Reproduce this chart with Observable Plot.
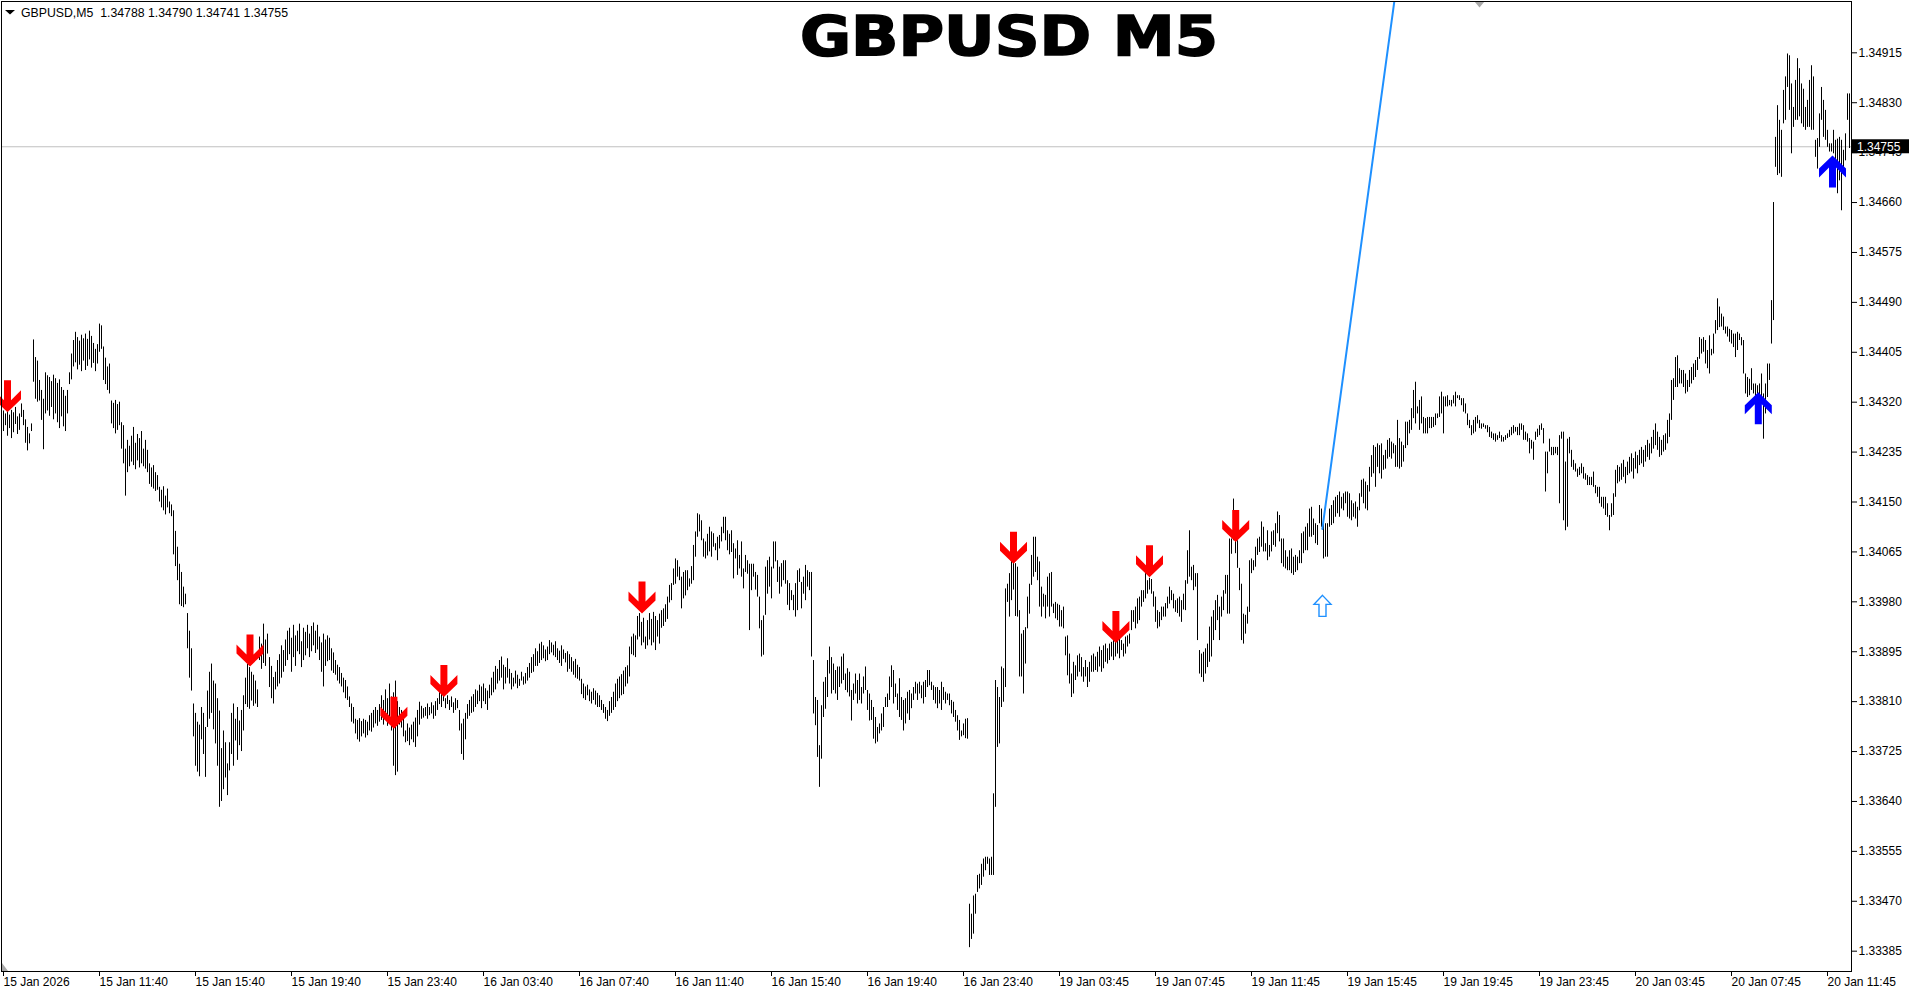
<!DOCTYPE html>
<html>
<head>
<meta charset="utf-8">
<style>
html, body { margin: 0; padding: 0; background: #ffffff; overflow: hidden; }
#chart { width: 1916px; height: 995px; }
</style>
<script src="https://cdn.jsdelivr.net/npm/d3@7"></script>
<script src="https://cdn.jsdelivr.net/npm/@observablehq/plot@0.6"></script>
</head>
<body>
<div id="chart"></div>
<script>
// ---------- DATA ----------
const titleText = "GBPUSD M5";
const headerText = "GBPUSD,M5  1.34788 1.34790 1.34741 1.34755";
const currentPrice = 1.34755;
// bar prices are stored as points above 1.33000 (1 point = 0.00001)
const priceBase = 1.33;

const highs = [
  1305,1300,1310,1298,1306,1302,1311,1295,1300,
  1317,1306,1290,1277,1266,1283,
  1426,
  1396,1390,1357,1340,1325,1370,
  1365,1362,1355,1366,1360,1352,1358,1345,1340,1330,1340,
  1370,1402,
  1425,1439,1430,1424,1434,1428,1436,1427,1441,1432,1420,1410,1418,
  1453,1450,
  1414,1395,1380,1385,
  1322,1318,1323,1316,1320,1285,
  1280,1240,1255,
  1245,1262,1277,1250,1265,1258,1270,1240,1255,1238,
  1215,1208,1212,1200,1195,
  1175,1170,1176,1160,1172,1150,1145,
  1135,1100,1073,
  1044,1030,1005,993,
  960,930,900,
  806,790,775,770,800,790,766,
  828,860,874,845,
  840,815,794,
  730,760,740,704,740,
  790,806,780,800,777,795,820,
  850,874,868,860,855,845,830,
  920,908,942,915,925,
  885,870,851,860,880,
  890,905,897,915,930,935,918,940,922,930,942,912,935,928,940,925,938,944,930,940,920,910,925,915,922,918,
  900,893,880,872,868,858,850,846,835,818,806,800,
  780,778,781,776,780,778,775,786,790,795,
  800,795,805,820,812,830,815,840,818,
  825,845,810,
  800,795,790,
  760,772,765,770,775,782,795,
  809,802,798,800,806,800,808,803,810,
  815,829,822,826,815,820,812,818,808,815,812,
  795,772,780,790,
  805,812,818,822,830,828,838,835,840,832,828,
  838,850,860,870,865,880,886,872,868,883,
  865,858,850,862,855,848,860,852,858,868,
  875,885,890,900,895,908,911,905,898,903,
  914,910,906,912,900,896,905,898,892,895,
  890,885,878,882,872,868,
  848,840,835,838,830,826,832,828,824,820,
  812,805,800,795,810,
  817,826,840,848,852,856,862,868,871,
  903,920,925,922,955,960,945,952,920,948,960,
  950,962,955,948,
  959,965,968,975,988,
  1008,1011,1036,1053,1050,1039,
  1022,1030,1033,1033,1019,1040,1076,
  1099,1130,1128,1118,1087,1082,1095,
  1107,1099,1096,1079,1090,1093,1107,1124,1124,1101,1095,
  1101,1079,1070,1084,1059,
  1082,1036,1059,1050,1044,1044,1044,1030,
  1025,988,948,956,1039,
  1050,1056,1039,1082,1082,1050,
  1039,1045,1050,1050,1016,1011,999,991,1011,1033,
  1036,1013,1022,1042,1033,1030,
  1030,880,
  817,812,735,803,
  843,851,880,903,885,
  874,863,869,869,886,891,857,866,860,
  829,840,857,846,857,834,852,869,829,823,
  812,800,783,766,772,789,800,
  817,823,852,871,863,840,823,
  849,817,812,815,826,829,823,834,843,840,
  843,837,843,846,863,863,
  843,837,834,834,829,843,834,826,823,823,812,
  809,795,786,778,760,772,780,781,
  465,448,479,482,
  514,516,533,542,
  545,545,542,545,
  653,846,
  834,817,869,866,
  1002,1010,1028,1050,1060,1045,
  1039,965,925,931,936,
  988,1010,1059,1090,1090,
  1056,1048,1005,993,991,1022,1028,1030,976,979,976,974,965,971,
  920,922,891,857,877,
  871,888,891,885,868,880,868,877,888,891,886,894,903,897,
  905,908,900,908,911,914,911,920,917,914,908,920,922,925,
  965,965,971,985,988,999,999,
  1028,1016,1020,1018,
  997,988,965,962,
  971,971,977,988,1005,999,993,982,985,988,982,
  993,1016,1067,1101,
  1039,1042,1028,1028,
  897,891,894,900,908,
  937,954,965,982,991,971,988,999,1025,
  1025,1087,1087,
  1155,1084,1084,
  1037,1010,959,
  957,971,1050,
  1053,1050,1073,1087,1090,
  1116,1107,1079,1101,1076,1099,1101,1113,1133,1127,
  1087,1087,1067,1056,1067,1070,1056,1059,1056,1067,
  1096,1099,1107,1113,1138,
  1141,1121,1113,1110,1144,1138,1116,1113,
  1113,1138,1144,
  1152,1158,1161,1167,1158,1164,1167,1167,1164,1152,1147,1150,1141,1164,
  1187,1189,1184,1178,1209,
  1229,1246,1243,1249,1246,1249,1229,1238,1255,
  1258,1252,1249,1246,1289,1258,1252,1246,1286,1286,
  1289,1309,1340,1354,1312,1323,1329,1294,
  1292,1294,1294,1294,1294,1300,1300,1329,1337,1329,
  1329,1331,1323,1323,1331,1337,1331,1331,1326,1326,
  1317,1300,1289,1280,1289,1294,1297,1289,
  1283,1283,1280,1280,1277,
  1269,1266,1266,1263,1269,1263,1260,1263,1266,
  1272,1277,1280,1277,1277,1283,1283,1280,
  1269,1266,1258,1255,1252,
  1269,1274,1280,1283,1275,
  1235,1235,
  1257,1243,1243,1243,1243,
  1263,1269,1269,1218,1257,1260,1238,
  1221,1215,1206,1209,1215,1209,
  1198,1195,1192,1192,1201,1178,1175,
  1175,1158,1158,1158,1147,1127,
  1147,1164,1204,1212,1209,
  1215,1221,1209,1218,1226,1232,1224,1235,1229,1238,1243,1238,1246,1255,1249,
  1260,1272,1283,1269,1260,1255,1263,1266,1289,1300,
  1357,1360,1396,1399,1377,
  1374,1374,1368,1357,1374,1379,1385,1391,1396,
  1430,1427,1430,1425,1408,1433,1410,1436,
  1459,1496,1482,
  1470,1465,1448,1448,1444,1442,1436,1436,1439,1436,1430,1425,
  1368,1362,1359,1377,1351,1351,1348,
  1351,1368,1334,1351,1385,
  1385,1493,
  1660,
  1771,1825,1800,1783,
  1851,1874,1913,1910,1862,
  1822,1868,1905,1888,1862,1853,1822,1834,1868,1893,1874,
  1766,1769,1811,1856,1834,1817,1783,1760,1760,1783,
  1766,1768,1771,1766,1749,1777,
  1845,1845
];

const lows = [
  1270,1280,1262,1275,1258,1268,1282,1265,1272,
  1294,1280,1250,1237,1249,1270,
  1354,
  1325,1320,1322,1289,1239,1300,
  1305,1296,1311,1290,1300,1285,1275,1295,1278,1270,1300,
  1350,1358,
  1380,1387,1375,1383,1372,1390,1374,1381,1392,1378,1386,1372,1385,
  1405,1410,
  1357,1350,1340,1334,
  1283,1275,1266,1272,1280,1240,
  1215,1160,1200,
  1210,1218,1212,1205,1220,1208,1215,1210,1206,1200,
  1180,1175,1172,1168,1170,
  1150,1140,1135,1128,1140,1130,1125,
  1060,1040,1016,
  975,972,970,975,
  900,850,828,
  750,700,690,682,745,720,681,
  766,780,790,762,
  738,700,630,
  640,660,680,650,692,
  720,700,743,710,735,725,760,
  805,800,797,811,802,806,800,
  880,865,875,870,891,
  834,815,806,830,835,
  840,850,860,870,880,890,860,885,870,895,890,868,880,888,900,885,895,905,892,898,880,860,835,870,878,880,
  862,858,855,845,840,835,825,815,812,800,775,772,
  755,745,741,750,755,748,752,760,758,765,
  772,768,775,778,770,780,768,775,760,
  700,684,690,
  770,765,750,
  740,742,735,745,740,732,750,
  770,780,782,785,780,786,789,780,785,
  795,805,800,810,798,805,795,800,790,795,798,
  760,720,710,745,
  780,785,790,792,800,805,810,798,810,805,795,
  815,820,825,830,840,845,850,830,840,850,
  840,830,835,840,832,836,845,838,840,845,
  850,858,860,870,870,875,880,883,878,880,
  890,893,888,885,880,875,870,882,876,860,
  865,860,855,850,848,845,
  822,815,812,820,810,806,812,804,800,800,
  795,790,780,776,785,
  790,795,800,810,815,820,822,835,840,
  852,890,888,885,915,920,905,910,899,905,915,
  905,910,897,920,
  908,935,938,945,950,
  978,982,1008,1010,1022,1016,
  968,985,990,999,1005,1010,1016,
  1056,1090,1099,1084,1056,1053,1058,
  1065,1056,1073,1067,1050,1070,1082,1096,1084,1067,1060,
  1064,1019,1053,1025,1036,
  1022,1002,1030,1027,931,999,1022,1000,
  988,934,886,889,957,
  993,1005,985,1036,1048,1013,
  993,1005,1016,1010,974,965,982,965,954,965,
  1013,968,993,982,1005,999,
  886,789,
  769,715,664,712,
  783,797,817,857,823,
  829,823,812,834,840,846,829,825,818,
  777,812,823,806,812,806,823,829,795,777,
  778,746,738,741,755,760,766,
  800,800,812,834,806,817,795,
  783,778,760,772,789,778,798,812,823,812,
  823,815,806,817,834,837,
  829,812,806,798,806,795,812,806,812,803,789,
  783,775,760,744,750,752,747,746,
  391,405,414,448,
  485,491,497,511,
  522,533,514,514,
  514,630,
  732,738,800,809,
  834,979,954,982,1000,955,
  954,852,852,823,874,
  934,959,1008,1022,1030,
  1016,971,954,971,951,971,954,971,960,951,948,937,937,934,
  888,854,840,817,823,
  846,852,860,852,843,852,834,843,860,860,863,860,869,860,
  866,877,874,880,886,880,886,891,883,897,886,891,903,908,
  931,945,934,942,948,971,979,
  985,993,1000,993,
  971,945,934,937,
  948,954,954,968,976,982,968,962,960,954,945,
  966,965,1010,1022,
  1016,999,1005,914,
  857,851,843,857,868,
  877,886,914,931,948,914,954,965,993,
  959,959,1061,
  1084,1062,1037,
  999,914,908,
  925,942,962,
  1028,1033,1039,1059,1064,
  1073,1065,1065,1050,1056,1065,1076,1073,1096,1082,
  1045,1039,1036,1033,1033,1028,1025,1030,1033,1045,
  1045,1062,1067,1067,1090,
  1090,1093,1079,1076,1113,1107,1053,1056,
  1056,1107,1110,
  1113,1124,1130,1124,1138,1135,1147,1124,1121,1118,1124,1121,1107,1135,
  1158,1147,1138,1135,1167,
  1192,1198,1175,1209,1198,1189,1204,1206,1223,
  1226,1223,1232,1209,1209,1206,1209,1218,1241,1246,
  1266,1272,1292,1283,1300,1272,1283,1266,
  1266,1266,1275,1275,1277,1280,1292,1294,1300,1266,
  1312,1312,1314,1312,1317,1312,1326,1323,1314,1303,
  1300,1280,1275,1263,1266,1269,1283,1275,
  1274,1277,1274,1268,1260,
  1258,1255,1252,1255,1258,1252,1252,1255,1258,
  1260,1263,1266,1269,1263,1263,1272,1255,
  1255,1252,1232,1240,1221,
  1255,1260,1263,1272,1249,
  1167,1198,
  1235,1229,1229,1232,1229,
  1147,1257,1118,1101,1107,1232,1209,
  1204,1201,1192,1195,1198,1189,
  1187,1178,1178,1178,1175,1164,1158,
  1147,1141,1138,1127,1124,1101,
  1124,1127,1158,1181,1184,
  1187,1192,1181,1195,1198,1201,1189,1206,1198,1212,1215,1209,1218,1226,1221,
  1232,1240,1246,1238,1226,1229,1235,1238,1249,1260,
  1289,1323,1345,1345,1351,
  1351,1345,1334,1337,1345,1351,1357,1362,1374,
  1393,1402,1405,1385,1377,1368,1399,1402,
  1436,1442,1447,
  1448,1442,1436,1431,1422,1419,1413,1396,1408,1425,1416,1368,
  1334,1328,1331,1340,1334,1328,1334,
  1331,1328,1257,1300,1328,
  1357,1419,
  1459,
  1720,1706,1709,1703,
  1794,1800,1856,1817,1743,
  1788,1800,1800,1806,1794,1788,1783,1788,1788,1783,1783,
  1737,1717,1754,1800,1771,1766,1754,1746,1746,1743,
  1731,1675,1697,1646,1709,1731,
  1800,1752
];

// time axis: one label every 48 five-minute bars
const xTickBars = [0,48,96,144,192,240,288,336,384,432,480,528,576,624,672,720,768,816,864,912];
const xTickLabels = ["15 Jan 2026","15 Jan 11:40","15 Jan 15:40","15 Jan 19:40","15 Jan 23:40",
  "16 Jan 03:40","16 Jan 07:40","16 Jan 11:40","16 Jan 15:40","16 Jan 19:40","16 Jan 23:40",
  "19 Jan 03:45","19 Jan 07:45","19 Jan 11:45","19 Jan 15:45","19 Jan 19:45","19 Jan 23:45",
  "20 Jan 03:45","20 Jan 07:45","20 Jan 11:45"];
const yTicks = [1.33385,1.33470,1.33555,1.33640,1.33725,1.33810,1.33895,1.33980,1.34065,1.34150,
  1.34235,1.34320,1.34405,1.34490,1.34575,1.34660,1.34745,1.34830,1.34915];

// signal arrows (bar index, price at arrow tip)
const sellBars = [2, 123.25, 195.2, 220.2, 319.25, 505, 556.2, 573, 616.1];
const sellPrices = [1.34303, 1.33870, 1.33764, 1.33818, 1.33960, 1.34045, 1.33910, 1.34022, 1.34082];
const buyBars = [877.4, 914.5];
const buyPrices = [1.34337, 1.34740];
const hollowBars = [659.5];
const hollowPrices = [1.33991];
// trend line (two anchor points)
const trendBars = [659.4, 700];
const trendPrices = [1.34104, 1.35117];
const shiftMarkerBar = [738];

// ---------- BUILD ----------
const bars = highs.map((h, i) => ({i, high: priceBase + h / 1e5, low: priceBase + lows[i] / 1e5}));
const sells = sellBars.map((b, k) => ({bar: b, price: sellPrices[k]}));
const buys = buyBars.map((b, k) => ({bar: b, price: buyPrices[k]}));
const hollows = hollowBars.map((b, k) => ({bar: b, price: hollowPrices[k]}));
const trend = trendBars.map((b, k) => ({bar: b, price: trendPrices[k]}));
const labelOf = new Map(xTickBars.map((b, k) => [b, xTickLabels[k]]));

function polySymbol(pts) {
  return {
    draw(context) {
      pts.forEach(([x, y], k) => (k ? context.lineTo(x, y) : context.moveTo(x, y)));
      context.closePath();
    }
  };
}
// thick arrow, tip at origin
const upShape = [[0,0],[13.5,13],[13.5,22],[3.5,12],[3.5,32],[-3.5,32],[-3.5,12],[-13.5,22],[-13.5,13]];
const upArrow = polySymbol(upShape);
const downArrow = polySymbol(upShape.map(([x, y]) => [x, -y]));
const hollowUp = polySymbol([[0,0],[8.5,9],[3.5,9],[3.5,21],[-3.5,21],[-3.5,9],[-8.5,9]]);
const shiftTri = polySymbol([[-5,0],[5,0],[0,6]]);

const plot = Plot.plot({
  width: 1916,
  height: 995,
  marginLeft: 1,
  marginRight: 65,
  marginTop: 1,
  marginBottom: 24,
  x: {domain: [-1, 924]},
  y: {domain: [1.333504, 1.350024]},
  style: {fontFamily: "'Liberation Sans', Arial, sans-serif", fontSize: "12px", color: "#000", background: "#fff"},
  marks: [
    Plot.ruleY([currentPrice], {stroke: "#c0c0c0", strokeWidth: 1}),
    Plot.ruleX(bars, {x: "i", y1: "low", y2: "high", stroke: "#000", strokeWidth: 1}),
    Plot.line(trend, {x: "bar", y: "price", stroke: "#1e90ff", strokeWidth: 2, clip: true}),
    Plot.dot(sells, {x: "bar", y: "price", symbol: downArrow, r: 10, fill: "#ff0000", stroke: "none"}),
    Plot.dot(buys, {x: "bar", y: "price", symbol: upArrow, r: 10, fill: "#0000ff", stroke: "none"}),
    Plot.dot(hollows, {x: "bar", y: "price", symbol: hollowUp, r: 10, fill: "#ffffff", stroke: "#1e90ff", strokeWidth: 1.4}),
    Plot.dot(shiftMarkerBar, {x: (d) => d, frameAnchor: "top", symbol: shiftTri, r: 5, fill: "#a8a8a8", stroke: "none"}),
    Plot.frame({stroke: "#000"}),
    Plot.axisX({ticks: xTickBars, tickFormat: (d) => labelOf.get(d), tickSize: 5, tickPadding: 1,
      textAnchor: "start", fontSize: 12, label: null}),
    Plot.axisY({anchor: "right", ticks: yTicks, tickFormat: d3.format(".5f"), tickSize: 5, tickPadding: 2,
      fontSize: 12, label: null})
  ]
});

document.getElementById("chart").append(plot);

// ---------- overlays: current price label, header, title ----------
const svg = d3.select(plot);
const ys = plot.scale("y");
const xs = plot.scale("x");
const right = xs.range[1];
const py = ys.apply(currentPrice);
const tag = svg.append("g").attr("text-anchor", "start");
tag.append("rect").attr("x", right + 1).attr("y", py - 7).attr("width", 57).attr("height", 14).attr("fill", "#000");
tag.append("text").attr("x", right + 6).attr("y", py).attr("dy", "0.36em").attr("fill", "#fff")
  .attr("text-anchor", "start")
  .attr("font-size", 12).attr("font-family", "'Liberation Sans', Arial, sans-serif")
  .text(d3.format(".5f")(currentPrice));

const head = svg.append("g").attr("text-anchor", "start");
head.append("path").attr("d", "M5,10L15,10L10,14.5Z").attr("fill", "#000");
head.append("text").attr("x", 21).attr("y", 17).attr("font-size", 12).attr("text-anchor", "start")
  .attr("font-family", "'Liberation Sans', Arial, sans-serif").attr("fill", "#000")
  .attr("textLength", 267).attr("lengthAdjust", "spacingAndGlyphs").text(headerText);

svg.append("path").attr("d", "M2,963L2,971L8,971Z").attr("fill", "#a8a8a8");

svg.append("text").attr("x", 1009).attr("y", 55).attr("text-anchor", "middle")
  .attr("font-family", "'DejaVu Sans', sans-serif").attr("font-weight", "bold").attr("font-size", 55)
  .attr("fill", "#000").attr("stroke", "#000").attr("stroke-width", 1.6)
  .attr("textLength", 418).attr("lengthAdjust", "spacingAndGlyphs").text(titleText);
</script>
</body>
</html>
